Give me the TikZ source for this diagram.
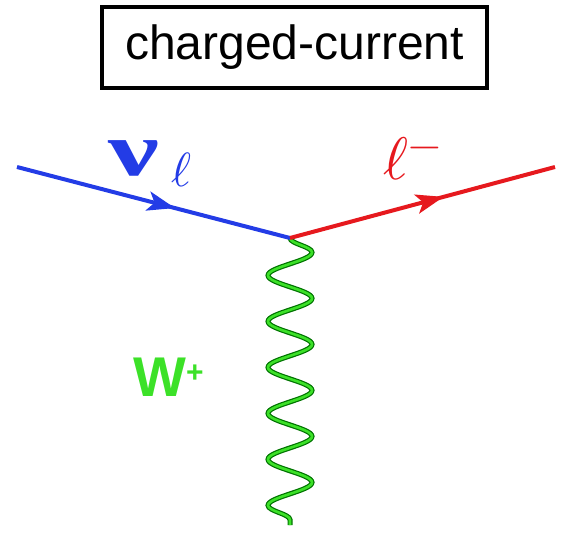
\documentclass[tikz,border=0pt]{standalone}
\usepackage{fontspec}
\setmainfont{Liberation Sans}
\newfontfamily\serifgr{Liberation Serif}
\usepackage{unicode-math}
\usetikzlibrary{decorations.pathmorphing,decorations.markings}
\definecolor{nublue}{RGB}{35,60,230}
\definecolor{lred}{RGB}{230,25,30}
\definecolor{wgreen}{RGB}{60,225,40}
\tikzset{
  fermion/.style={line width=4pt, postaction={decorate}, decoration={markings, mark=at position 0.55 with {\fill (-20pt,-10pt) -- (8pt,0pt) -- (-20pt,10pt) -- (-13pt,0pt) -- cycle;}}},
  bosonout/.style={line width=5pt, black!55!green, decorate, decoration={snake, segment length=46pt, amplitude=22pt}},
  boson/.style={line width=2.6pt, wgreen, decorate, decoration={snake, segment length=46pt, amplitude=22pt}},
  title/.style={draw, line width=4pt, minimum width=385pt, minimum height=81pt, font=\fontsize{48}{50}\selectfont, inner sep=0pt},
  lbl/.style={inner sep=0pt}
}
\begin{document}
\begin{tikzpicture}[x=1pt,y=-1pt]
\useasboundingbox (0,0) rectangle (562,534);
\node[title] (t) at (294.5,47.5) {charged-current};
\coordinate (a) at (17,167);
\coordinate (v) at (290,238);
\coordinate (b) at (555,167);
\coordinate (e) at (290,525);
\draw[bosonout] (v) -- (e);
\draw[boson] (v) -- (e);
\draw[fermion, nublue] (a) -- (v);
\draw[fermion, lred] (v) -- (b);
\node[lbl, nublue, anchor=base west] (nu) at (108,176) {\fontsize{76}{78}\selectfont\serifgr\bfseries \scalebox{1.5}[1]{ν}\hspace{12pt}\raisebox{-11pt}{\fontsize{48}{48}\selectfont$\ell$}};
\node[lbl, lred, anchor=base west] (l) at (383,180) {\fontsize{60}{62}\selectfont$\ell^{-}$};
\node[lbl, wgreen, anchor=base west] (w) at (133,396) {\fontsize{56}{58}\selectfont\bfseries W\raisebox{14pt}{\fontsize{30}{30}\selectfont +}};
\end{tikzpicture}
\end{document}
